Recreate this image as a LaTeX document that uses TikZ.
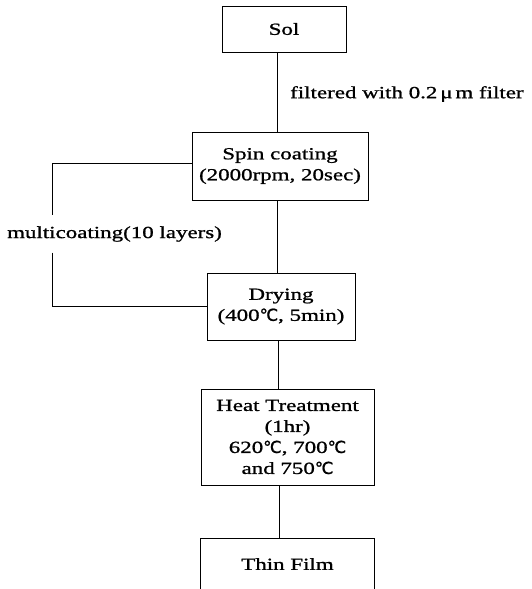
\documentclass[tikz,border=0pt]{standalone}
\usepackage{fontspec}
\setmainfont[FakeStretch=1.35,FakeBold=1]{Liberation Serif}
\newfontfamily\symfont[FakeBold=1]{DejaVu Sans}
\newcommand{\degC}{{\symfont\fontsize{16.5}{16.5}\selectfont ℃}}
\begin{document}
\begin{tikzpicture}[x=1pt,y=1pt,
  box/.style={draw,line width=1pt,align=center,inner sep=0pt,
    font=\fontsize{17}{21}\selectfont},
  lbl/.style={align=center,inner sep=0pt,font=\fontsize{17}{21}\selectfont},
  conn/.style={line width=1pt}]
\useasboundingbox (0,0) rectangle (532,-589);
\node[box,minimum width=124,minimum height=46] (sol) at (284,-29) {Sol};
\node[box,minimum width=176,minimum height=68] (spin) at (280,-166)
  {\fontsize{17}{25}\selectfont Spin coating\\(2000rpm, 20sec)};
\node[box,minimum width=148,minimum height=67] (dry) at (281,-306.5)
  {\fontsize{17}{23}\selectfont Drying\\(400\degC, 5min)};
\node[box,minimum width=173,minimum height=96] (heat) at (287.5,-437)
  {Heat Treatment\\(1hr)\\620\degC, 700\degC\\and 750\degC};
\node[lbl,minimum width=173,minimum height=50] (thin) at (287.5,-564) {Thin Film};
\draw[conn] (thin.south west) -- (thin.north west) -- (thin.north east) -- (thin.south east);
\node[lbl,anchor=west] (filt) at (290,-94) {filtered with 0.2\,μ\,m filter};
\node[lbl,minimum height=37] (multi) at (114.5,-234) {multicoating(10 layers)};
\coordinate (c1) at (277,0);
\coordinate (c2) at (278,0);
\coordinate (c3) at (279,0);
\coordinate (c0) at (52,0);
\draw[conn] (sol.south -| c1) -- (spin.north -| c1);
\draw[conn] (spin.south -| c1) -- (dry.north -| c1);
\draw[conn] (dry.south -| c2) -- (heat.north -| c2);
\draw[conn] (heat.south -| c3) -- (thin.north -| c3);
\draw[conn] ([yshift=3]spin.west) -| (multi.north -| c0);
\draw[conn] (multi.south -| c0) |- (dry.west);
\end{tikzpicture}
\end{document}
